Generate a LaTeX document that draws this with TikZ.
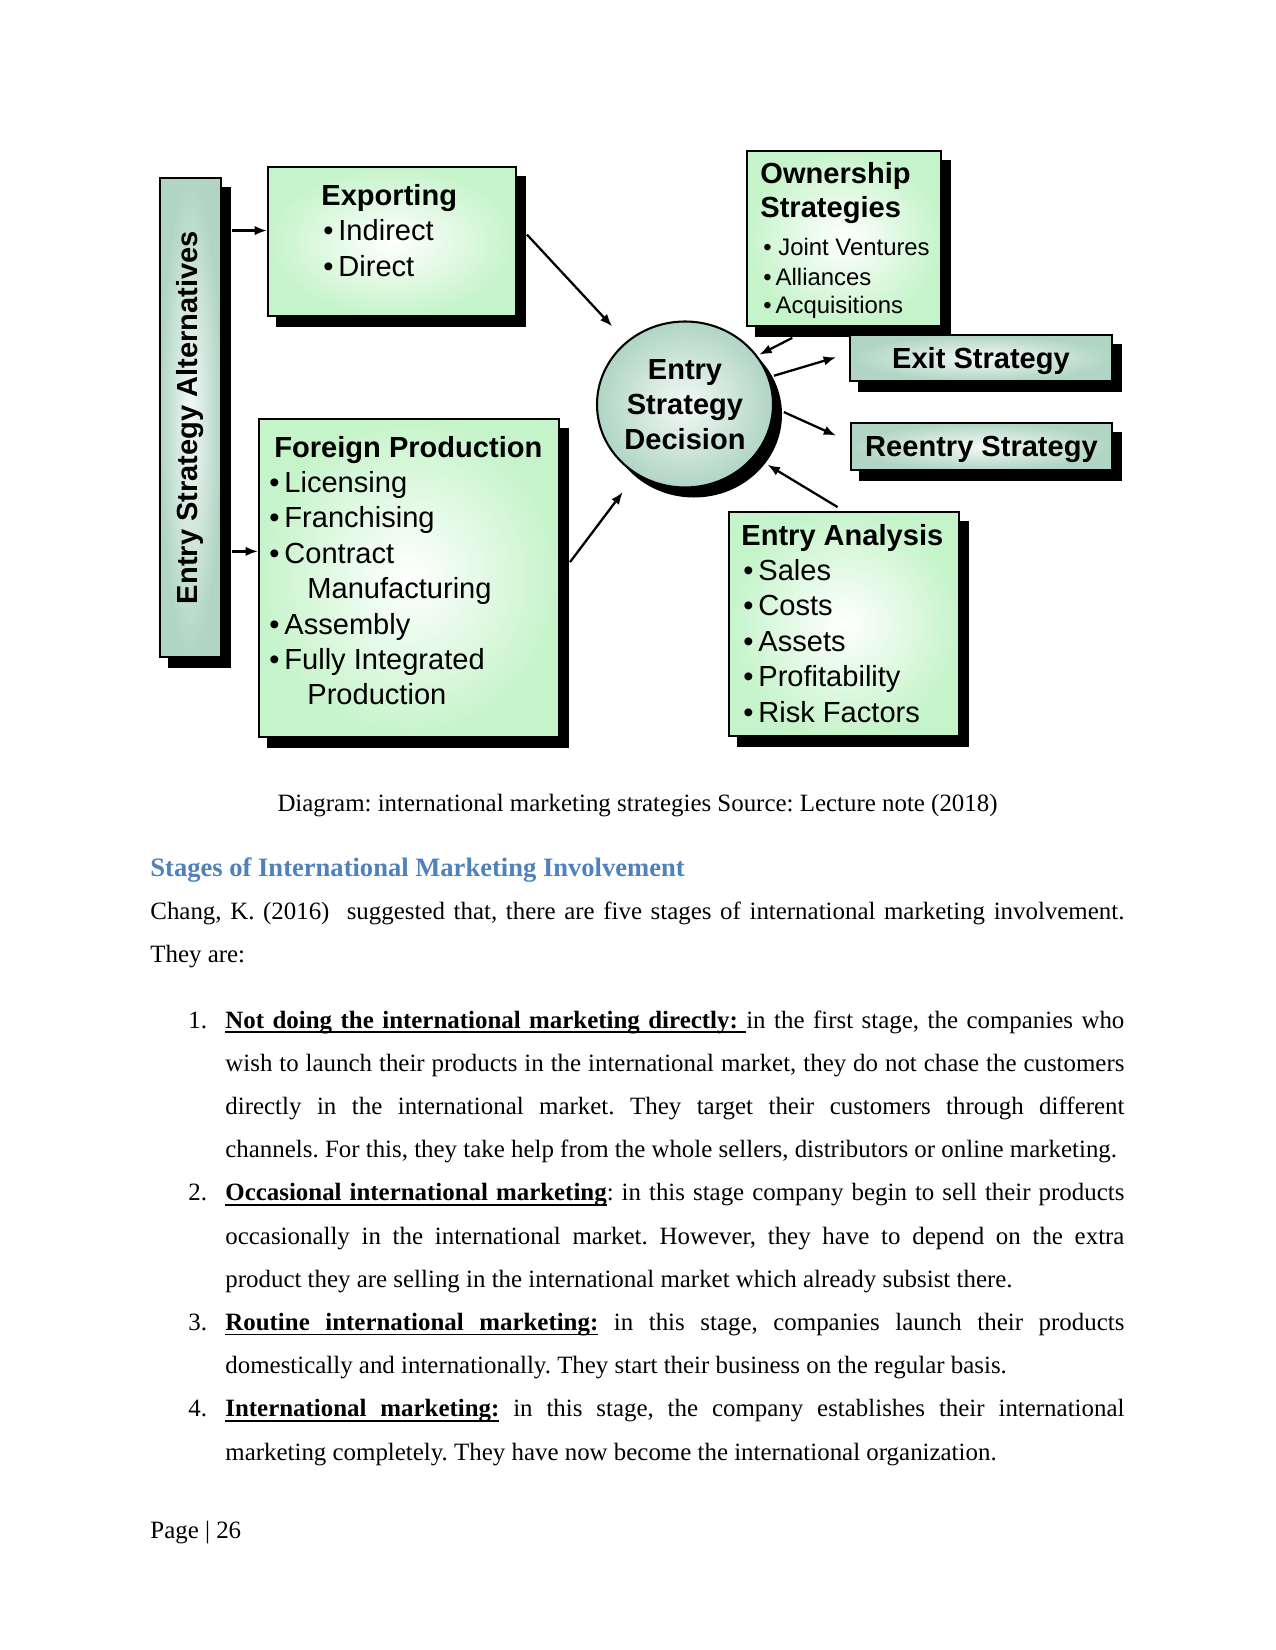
\documentclass[tikz,border=0pt]{standalone}
\usepackage{fontspec}
\setmainfont{Liberation Serif}
\newfontfamily\diagfont{Liberation Sans}
\usepackage{graphicx}
\usetikzlibrary{shapes.geometric}
\usetikzlibrary{arrows.meta}
\usetikzlibrary{backgrounds}
\frenchspacing

\newlength{\pxu}
\setlength{\pxu}{0.16933mm}
\newlength{\jwd}
\setlength{\jwd}{899\pxu}
\newsavebox{\ulbox}
% underlined word and underlined (stretchable) space
\newcommand{\ulw}[1]{\sbox{\ulbox}{#1}\rlap{\rule[-2.4pt]{\wd\ulbox}{0.8pt}}\usebox{\ulbox}}
\newcommand{\ulsp}{\leaders\hrule height -1.6pt depth 2.4pt\hskip\fontdimen2\font plus\fontdimen3\font minus\fontdimen4\font\relax}
\definecolor{boxgreen}{RGB}{198,244,202}
\definecolor{boxteal}{RGB}{176,213,196}
\definecolor{headblue}{RGB}{79,129,189}

\tikzset{
  greenbox/.style={draw=black,line width=1pt,inner sep=0pt,outer color=boxgreen,inner color=white},
  tealbox/.style={draw=black,line width=1pt,inner sep=0pt,outer color=boxteal,inner color=white!85!boxteal},
  arr/.style={line width=1.1pt,-{Latex[length=2.1mm,width=1.6mm]}},
  head/.style={font=\diagfont\bfseries\fontsize{14}{17}\selectfont,inner sep=0pt,anchor=base west},
  item/.style={font=\diagfont\fontsize{14}{17}\selectfont,inner sep=0pt,anchor=base west},
  smallitem/.style={font=\diagfont\fontsize{11.5}{14}\selectfont,inner sep=0pt,anchor=base west},
  body/.style={font=\fontsize{12}{14}\selectfont,inner sep=0pt,anchor=base west}
}

\begin{document}
\begin{tikzpicture}[x=\pxu,y=-\pxu]
\useasboundingbox (0,0) rectangle (1275,1650);

\node[tealbox,minimum width=61\pxu,minimum height=479\pxu,font=\diagfont\bfseries\fontsize{14}{17}\selectfont] (alt) at (190.5,417.5) {\rotatebox{90}{Entry Strategy Alternatives}};
\node[greenbox,minimum width=248\pxu,minimum height=149\pxu] (export) at (392,241.5) {};
\node[greenbox,minimum width=300\pxu,minimum height=318\pxu] (foreign) at (409,578) {};
\node[tealbox,ellipse,minimum width=176\pxu,minimum height=166\pxu,align=center,font=\diagfont\bfseries\fontsize{14}{17}\selectfont] (decision) at (685,404.5) {Entry\\Strategy\\Decision};
\node[greenbox,minimum width=194\pxu,minimum height=175\pxu] (owner) at (844,238.5) {};
\node[tealbox,minimum width=262\pxu,minimum height=46\pxu,text depth=0pt,font=\diagfont\bfseries\fontsize{14}{17}\selectfont] (exit) at (981,358) {Exit Strategy};
\node[tealbox,minimum width=261\pxu,minimum height=47\pxu,text depth=0pt,font=\diagfont\bfseries\fontsize{14}{17}\selectfont] (reentry) at (981.5,446.5) {Reentry Strategy};
\node[greenbox,minimum width=230\pxu,minimum height=224\pxu] (analysis) at (844,624) {};

\begin{scope}[on background layer]
\fill[white] (0,0) rectangle (1275,1650);
\foreach \n in {alt,export,foreign,owner,exit,reentry,analysis}
  \fill[black] ([shift={(9,10)}]\n.south west) rectangle ([shift={(9,10)}]\n.north east);
\fill[black] ([shift={(9,10)}]decision.center) ellipse [x radius=88, y radius=83];
\end{scope}

% box texts
\node[head] (exp0) at (321,205.7) {Exporting};
\node[item] (exp1) at (323,240.7) {•\,Indirect};
\node[item] (exp2) at (323,276.7) {•\,Direct};

\node[head] (fp0) at (274,457) {Foreign Production};
\foreach \t [count=\k] in {•\,Licensing,•\,Franchising,•\,Contract,\hspace*{38\pxu}Manufacturing,•\,Assembly,•\,Fully Integrated,\hspace*{38\pxu}Production}
  \node[item] (fp\k) at (269,457+35.4*\k) {\t};

\node[head] (own0) at (760,183) {Ownership};
\node[head] (own1) at (760,217) {Strategies};
\node[smallitem] (own2) at (763,255) {•\;Joint Ventures};
\node[smallitem] (own3) at (763,285) {•\,Alliances};
\node[smallitem] (own4) at (763,313) {•\,Acquisitions};

\node[head] (ana0) at (741,545) {Entry Analysis};
\foreach \t [count=\k] in {Sales,Costs,Assets,Profitability,Risk Factors}
  \node[item] (ana\k) at (743,545+35.4*\k) {•\,\t};

% arrows
\draw[arr,shorten <=4.8pt] (alt.east |- export.175) -- (export.175);
\draw[arr,shorten <=4.8pt] (alt.east |- foreign.170.5) -- (foreign.170.5);
\draw[arr,shorten <=7pt,shorten >=9.9pt] (export.8) -- (decision.133);
\draw[arr,shorten <=8pt,shorten >=10.5pt] (foreign.1) -- (decision.235);
\draw[arr,shorten <=11.5pt,shorten >=1pt] (owner.251) -- (decision.34);
\draw[arr,shorten <=2.4pt,shorten >=6.5pt] (decision.18) -- (exit.178);
\draw[arr,shorten <=5.2pt,shorten >=7.3pt] (decision.-2) -- (reentry.178);
\draw[arr,shorten <=3.6pt,shorten >=7.3pt] (analysis.north) -- (decision.-37);

% page text
\node[body,anchor=base] (caption) at (637.5,811) {Diagram: international marketing strategies Source: Lecture note (2018)};
\node[body,font=\bfseries\fontsize{12.8}{15}\selectfont,text=headblue] (stages) at (150,876) {Stages of International Marketing Involvement};
\node[body] (chang) at (150,919) {\makebox[974\pxu][s]{Chang, K. (2016)\ \ suggested that, there are five stages of international marketing involvement.}};
\node[body] (theyare) at (150,962) {They are:};

\node[body] (num1) at (188,1028) {1.};
\node[body] (it1a) at (225,1028) {\makebox[\jwd][s]{{\bfseries\ulw{Not}\ulsp\ulw{doing}\ulsp\ulw{the}\ulsp\ulw{international}\ulsp\ulw{marketing}\ulsp\ulw{directly:}\ulsp}in the first stage, the companies who}};
\node[body] (it1b) at (225,1071.2) {\makebox[\jwd][s]{wish to launch their products in the international market, they do not chase the customers}};
\node[body] (it1c) at (225,1114.4) {\makebox[\jwd][s]{directly in the international market. They target their customers through different}};
\node[body] (it1d) at (225,1157.6) {channels. For this, they take help from the whole sellers, distributors or online marketing.};

\node[body] (num2) at (188,1200.8) {2.};
\node[body] (it2a) at (225,1200.8) {\makebox[\jwd][s]{{\bfseries\ulw{Occasional}\ulsp\ulw{international}\ulsp\ulw{marketing}}: in this stage company begin to sell their products}};
\node[body] (it2b) at (225,1244) {\makebox[\jwd][s]{occasionally in the international market. However, they have to depend on the extra}};
\node[body] (it2c) at (225,1287.2) {product they are selling in the international market which already subsist there.};

\node[body] (num3) at (188,1330.4) {3.};
\node[body] (it3a) at (225,1330.4) {\makebox[\jwd][s]{{\bfseries\ulw{Routine}\ulsp\ulw{international}\ulsp\ulw{marketing:}} in this stage, companies launch their products}};
\node[body] (it3b) at (225,1373.6) {domestically and internationally. They start their business on the regular basis.};

\node[body] (num4) at (188,1416.8) {4.};
\node[body] (it4a) at (225,1416.8) {\makebox[\jwd][s]{{\bfseries\ulw{International}\ulsp\ulw{marketing:}} in this stage, the company establishes their international}};
\node[body] (it4b) at (225,1460) {marketing completely. They have now become the international organization.};

\node[body] (page) at (150,1538) {Page | 26};
\end{tikzpicture}
\end{document}
